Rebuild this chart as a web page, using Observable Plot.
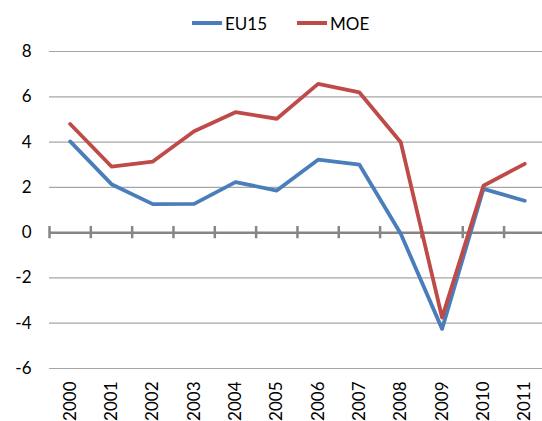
<!DOCTYPE html>
<html>
<head>
<meta charset="utf-8">
<script src="https://cdn.jsdelivr.net/npm/d3@7"></script>
<script src="https://cdn.jsdelivr.net/npm/@observablehq/plot@0.6"></script>
<style>
  body { margin: 0; background: #fff; font-family: Lato, "Open Sans", sans-serif; }
  #legend { position: relative; height: 40px; width: 542px; font-size: 17px; color: #000; }
  .item { position: absolute; top: 13px; display: flex; align-items: center; height: 20px; }
  .swatch { width: 30px; height: 4px; margin-right: 3px; }
</style>
</head>
<body>
<div id="legend"></div>
<div id="chart"></div>
<script>
const years = [2000, 2001, 2002, 2003, 2004, 2005, 2006, 2007, 2008, 2009, 2010, 2011];
const eu15 = [4.03, 2.14, 1.26, 1.27, 2.23, 1.86, 3.22, 3.0, -0.05, -4.25, 1.93, 1.41];
const moe = [4.8, 2.92, 3.14, 4.48, 5.32, 5.03, 6.57, 6.19, 3.99, -3.75, 2.07, 3.04];
const seriesNames = ["EU15", "MOE"];
const colors = ["#4A7EBB", "#BE4B48"];
const yTicks = [-6, -4, -2, 0, 2, 4, 6, 8];

const data = [];
years.forEach((y, i) => {
  data.push({year: y, value: eu15[i], series: "EU15"});
  data.push({year: y, value: moe[i], series: "MOE"});
});
const boundaries = years.map(y => y - 0.5);

// legend
const legend = document.getElementById("legend");
const lefts = [192, 297];
seriesNames.forEach((s, i) => {
  const it = document.createElement("div");
  it.className = "item";
  it.style.left = lefts[i] + "px";
  it.innerHTML = `<span class="swatch" style="background:${colors[i]}"></span><span>${s}</span>`;
  legend.appendChild(it);
});

const chart = Plot.plot({
  width: 542,
  height: 381,
  marginLeft: 49,
  marginRight: 0,
  marginTop: 11,
  marginBottom: 53,
  style: {fontFamily: "Lato, 'Open Sans', sans-serif", fontSize: "17px", color: "#000", background: "#fff"},
  x: {domain: [1999.5, 2011.43], axis: null},
  y: {domain: [-6, 8], axis: null},
  color: {domain: seriesNames, range: colors},
  marks: [
    Plot.ruleY(yTicks.filter(d => d !== 0), {stroke: "#A6A6A6", strokeWidth: 1.2}),
    Plot.ruleY([0], {stroke: "#868686", strokeWidth: 2.5}),
    Plot.ruleX(boundaries, {x: d => d, y1: -0.27, y2: 0.27, stroke: "#868686", strokeWidth: 2.5}),
    Plot.axisY(yTicks, {tickSize: 0, tickPadding: 18, fontSize: 17, label: null, tickFormat: d => String(d)}),
    Plot.axisX(years, {anchor: "bottom", tickSize: 0, tickPadding: 13, tickRotate: -90, tickFormat: d => String(d), fontSize: 17, label: null}),
    Plot.line(data, {x: "year", y: "value", stroke: "series", z: "series", strokeWidth: 3.8, strokeLinejoin: "round", strokeLinecap: "round"})
  ]
});
document.getElementById("chart").appendChild(chart);
</script>
</body>
</html>
